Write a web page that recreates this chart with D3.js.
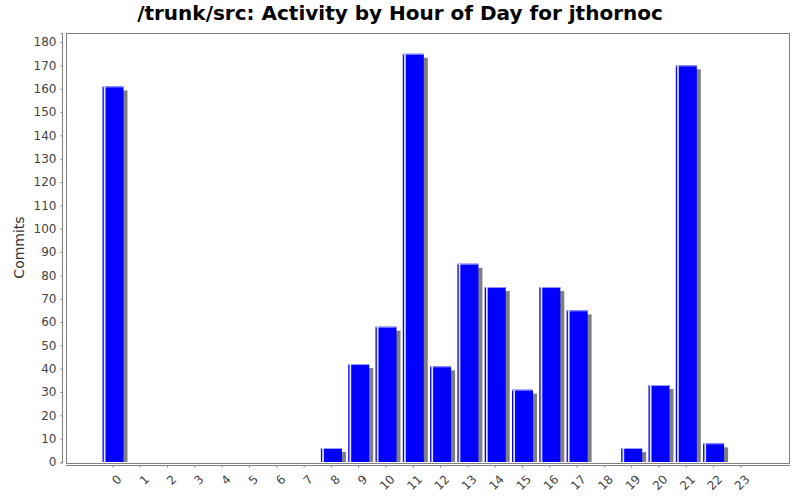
<!DOCTYPE html>
<html>
<head>
<meta charset="utf-8">
<script src="https://cdn.jsdelivr.net/npm/d3@7"></script>
<style>
  body { margin: 0; background: #fff; }
  text { font-family: "DejaVu Sans", sans-serif; }
</style>
</head>
<body>
<svg id="chart" width="800" height="500"></svg>
<script>
const hours = d3.range(24).map(String);
const commits = [161, 0, 0, 0, 0, 0, 0, 0, 6, 42, 58, 175, 41, 85, 75, 31, 75, 65, 0, 6, 33, 170, 8, 0];
const yTicks = d3.range(0, 181, 10);

const plot = { left: 66, right: 789, top: 33, bottom: 462 };
const svg = d3.select('#chart');

svg.append('rect')
  .attr('width', 800).attr('height', 500).attr('fill', '#fff');

svg.append('text')
  .attr('x', 400).attr('y', 20)
  .attr('text-anchor', 'middle')
  .attr('font-size', 20).attr('font-weight', 'bold')
  .attr('fill', '#000')
  .text('/trunk/src: Activity by Hour of Day for jthornoc');

const y = d3.scaleLinear().domain([0, 183.9]).range([plot.bottom, plot.top]);
const x = d3.scaleBand().domain(hours)
  .range([96.2, 757.7]).padding(0.23);

// plot border
svg.append('rect')
  .attr('x', plot.left + 0.5).attr('y', plot.top + 0.5)
  .attr('width', plot.right - plot.left).attr('height', plot.bottom - plot.top + 1)
  .attr('fill', 'none').attr('stroke', '#808080');

const bars = svg.append('g');
const data = hours.map((h, i) => ({ h, v: commits[i] })).filter(d => d.v > 0);

// shadows
bars.selectAll('.shadow').data(data).enter().append('rect')
  .attr('x', d => x(d.h) + 4)
  .attr('y', d => y(d.v) + 4)
  .attr('width', x.bandwidth())
  .attr('height', d => Math.max(0, y(0) - y(d.v) - 4))
  .attr('fill', '#808080');

bars.selectAll('.bar').data(data).enter().append('rect')
  .attr('x', d => x(d.h))
  .attr('y', d => y(d.v))
  .attr('width', x.bandwidth())
  .attr('height', d => y(0) - y(d.v))
  .attr('fill', '#0000ff');

// highlight top edge and left stripe
bars.selectAll('.top').data(data).enter().append('rect')
  .attr('x', d => x(d.h))
  .attr('y', d => y(d.v))
  .attr('width', x.bandwidth())
  .attr('height', 1)
  .attr('fill', '#9a9aff');
bars.selectAll('.stripe').data(data).enter().append('rect')
  .attr('x', d => x(d.h) + 1.3)
  .attr('y', d => y(d.v))
  .attr('width', 1.7)
  .attr('height', d => y(0) - y(d.v))
  .attr('fill', '#e6e6ff');

// y axis
const yAxis = svg.append('g')
  .attr('transform', 'translate(62.5,0)')
  .call(d3.axisLeft(y).tickValues(yTicks).tickSize(2).tickPadding(4));
yAxis.select('.domain').attr('stroke', '#808080')
  .attr('d', `M-2,${plot.top + 0.5}H0V${plot.bottom + 1}H-2`);
yAxis.selectAll('.tick line').attr('stroke', '#808080');
yAxis.selectAll('.tick text').attr('font-size', 12).attr('fill', '#444')
  .attr('font-family', '"DejaVu Sans", sans-serif');

svg.append('text')
  .attr('transform', `translate(24,${(plot.top + plot.bottom) / 2}) rotate(-90)`)
  .attr('text-anchor', 'middle')
  .attr('font-size', 14).attr('fill', '#333')
  .text('Commits');

// x axis
const xAxis = svg.append('g')
  .attr('transform', 'translate(0,465.5)')
  .call(d3.axisBottom(x).tickSize(2).tickSizeOuter(0));
xAxis.select('.domain').attr('stroke', '#808080')
  .attr('d', `M${plot.left},0H${plot.right + 1}`);
xAxis.selectAll('.tick line').attr('stroke', '#808080');
xAxis.selectAll('.tick text')
  .attr('font-size', 12).attr('fill', '#444')
  .attr('font-family', '"DejaVu Sans", sans-serif')
  .attr('text-anchor', 'end')
  .attr('dy', '0.35em')
  .attr('transform', 'translate(3,8) rotate(-45)');
</script>
</body>
</html>
